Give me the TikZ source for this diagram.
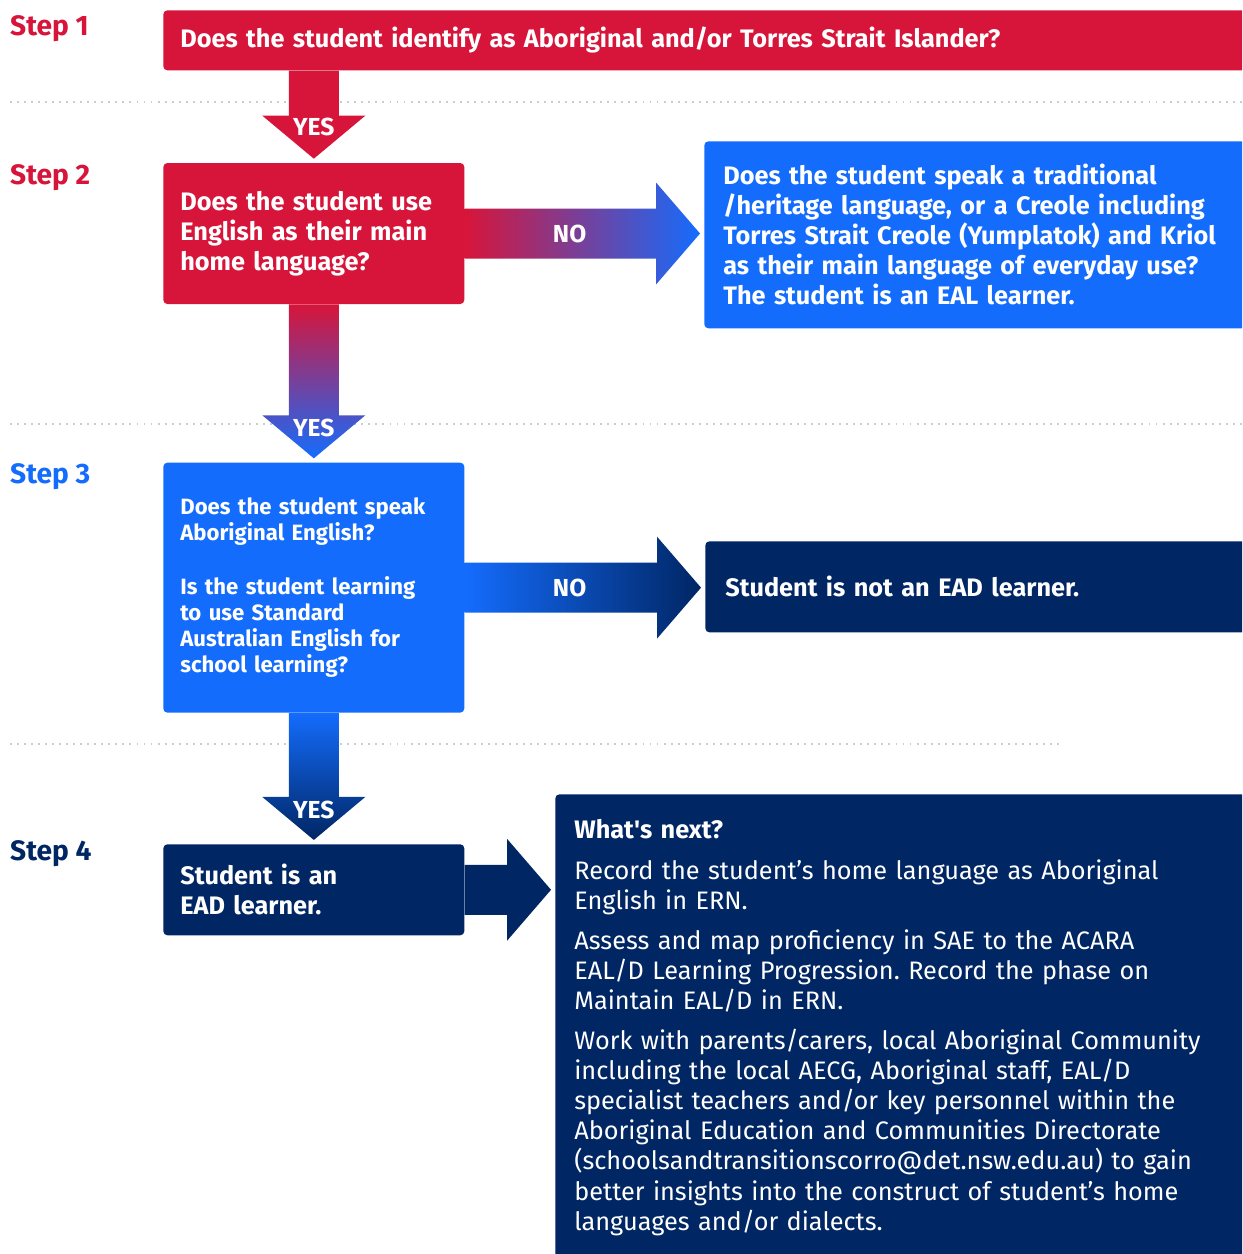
\documentclass[tikz,border=0pt]{standalone}
\usepackage{fontspec}
\setmainfont{Fira Sans}
\usetikzlibrary{positioning, calc}
\definecolor{nswred}{RGB}{215,21,58}
\definecolor{nswblue}{RGB}{20,108,253}
\definecolor{nswnavy}{RGB}{0,38,100}
\definecolor{dotgrey}{RGB}{200,204,212}
\frenchspacing
\tikzset{
    box/.style={
        rectangle, rounded corners=0.08cm, text=white, align=left,
        inner ysep=0pt, anchor=north west, font=\fontsize{14.4}{17.1}\selectfont\bfseries
    },
    redbox/.style={box, fill=nswred},
    bluebox/.style={box, fill=nswblue},
    navybox/.style={box, fill=nswnavy},
    steplabel/.style={anchor=west, font=\fontsize{16}{18}\selectfont\bfseries},
    flowlabel/.style={text=white, font=\fontsize{14}{16}\selectfont\bfseries},
    separator/.style={draw=dotgrey, line width=1.1pt, dash pattern=on 1.1pt off 2.9pt}
}
% block arrows: style, start anchor, target anchor
\newcommand{\flowdown}[3]{%
    \path[#1] let \p1=(#2), \p2=(#3) in
        (\x2-0.5cm,\y1) -- (\x2+0.5cm,\y1) -- (\x2+0.5cm,\y2+0.94cm) -- (\x2+1.03cm,\y2+0.94cm)
        -- (\x2,\y2+0.08cm) -- (\x2-1.03cm,\y2+0.94cm) -- (\x2-0.5cm,\y2+0.94cm) -- cycle;}
\newcommand{\flowright}[3]{%
    \path[#1] let \p1=(#2), \p2=(#3) in
        (\x1,\y1+0.5cm) -- (\x2-0.96cm,\y1+0.5cm) -- (\x2-0.96cm,\y1+1.02cm) -- (\x2-0.08cm,\y1)
        -- (\x2-0.96cm,\y1-1.02cm) -- (\x2-0.96cm,\y1-0.5cm) -- (\x1,\y1-0.5cm) -- cycle;}

\begin{document}
\begin{tikzpicture}[x=0.02cm, y=-0.02cm]

\useasboundingbox (0,0) rectangle (1242,1254);
\fill[white] (0,0) rectangle (1242,1254);
\clip (0,0) rectangle (1242,1254);

% Separators
\draw[separator] (10,102) -- (1242,102);
\draw[separator] (10,424) -- (1242,424);
\draw[separator] (10,744) -- (1060,744);

% Step labels
\node[steplabel, text=nswred] (step1) at (4,29) {Step 1};
\node[steplabel, text=nswred] (step2) at (4,178) {Step 2};
\node[steplabel, text=nswblue] (step3) at (4,477) {Step 3};
\node[steplabel, text=nswnavy] (step4) at (4,854) {Step 4};

% Step 1
\node[redbox, minimum height=1.2cm, inner xsep=0.34cm, text width=21.1cm] (identify) at (163,10)
    {Does the student identify as Aboriginal and/or Torres Strait Islander?};

% Step 2
\node[redbox, minimum height=2.82cm, inner xsep=0.34cm, text width=5.34cm,
    below=1.84cm of identify.south west, anchor=north west] (mainlang)
    {Does the student use\\English as their main\\home language?};
\node[bluebox, minimum height=3.74cm, inner xsep=0.38cm, text width=10.6cm] (eal) at (704,141)
    {Does the student speak a traditional\\/heritage language, or a Creole including\\Torres Strait Creole (Yumplatok) and Kriol\\as their main language of everyday use?\\The student is an EAL learner.};

% Step 3
\node[bluebox, minimum height=5cm, inner xsep=0.34cm, text width=5.34cm,
    font=\fontsize{12.6}{14.8}\selectfont\bfseries,
    below=3.16cm of mainlang.south west, anchor=north west] (standard)
    {Does the student speak\\Aboriginal English?\\[0.56cm]Is the student learning\\to use Standard\\Australian English for\\school learning?};
\node[navybox, minimum height=1.82cm, inner xsep=0.4cm, text width=10.6cm] (notead) at (705,541)
    {Student is not an EAD learner.};

% Step 4
\node[navybox, minimum height=1.82cm, inner xsep=0.34cm, text width=5.34cm,
    below=2.62cm of standard.south west, anchor=north west] (eadlearner)
    {Student is an\\EAD learner.};
\node[navybox, inner xsep=0.38cm, inner ysep=0.5cm, text width=13.2cm, text depth=9cm,
    font=\fontsize{14.4}{17.1}\selectfont] (nextsteps) at (555,794)
    {{\bfseries What\textquotesingle s next?}\\[0.22cm]Record the student’s home language as Aboriginal\\English in ERN.\\[0.2cm]Assess and map proficiency in SAE to the ACARA\\EAL/D Learning Progression. Record the phase on\\Maintain EAL/D in ERN.\\[0.2cm]Work with parents/carers, local Aboriginal Community\\including the local AECG, Aboriginal staff, EAL/D\\specialist teachers and/or key personnel within the\\Aboriginal Education and Communities Directorate\\(schoolsandtransitionscorro@det.nsw.edu.au) to gain\\better insights into the construct of student’s home\\languages and/or dialects.};

% Arrows
\flowdown{fill=nswred}{identify.south}{mainlang.north}
\flowright{left color=nswred, right color=nswblue}{mainlang.east}{eal.west}
\flowdown{top color=nswred, bottom color=nswblue}{mainlang.south}{standard.north}
\flowright{left color=nswblue, right color=nswnavy}{standard.east}{notead.west}
\flowdown{top color=nswblue, bottom color=nswnavy}{standard.south}{eadlearner.north}
\flowright{fill=nswnavy}{eadlearner.east}{nextsteps.west}

% Arrow labels
\node[flowlabel] (yes1) at ($(mainlang.north)+(0,-36)$) {YES};
\node[flowlabel] (no1) at ($(mainlang.east)+(105,0)$) {NO};
\node[flowlabel] (yes2) at ($(standard.north)+(0,-34)$) {YES};
\node[flowlabel] (no2) at ($(standard.east)+(105,0)$) {NO};
\node[flowlabel] (yes3) at ($(eadlearner.north)+(0,-34)$) {YES};

\end{tikzpicture}
\end{document}
